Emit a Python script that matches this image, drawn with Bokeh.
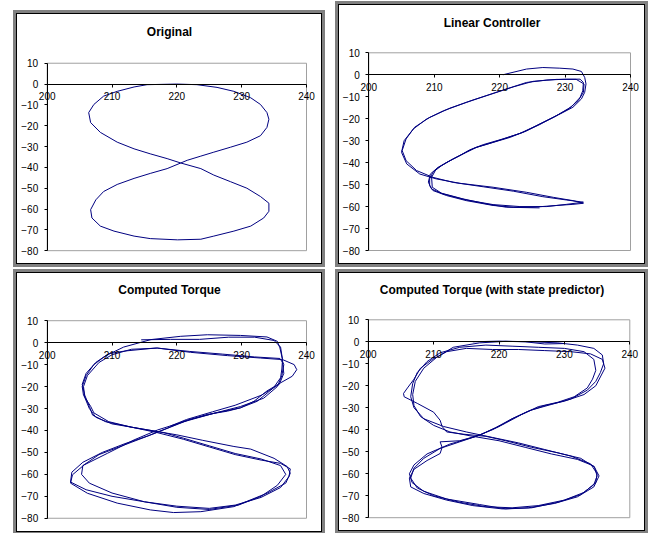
from bokeh.plotting import figure
from bokeh.models import Range1d, FixedTicker
from bokeh.layouts import row, column
from bokeh.embed import file_html
from bokeh.resources import INLINE

# ---------------- data ----------------
x_ticks = [200, 210, 220, 230, 240]
y_ticks = [10, 0, -10, -20, -30, -40, -50, -60, -70, -80]
titles = ["Original", "Linear Controller", "Computed Torque",
          "Computed Torque (with state predictor)"]

orig_x = [220.0, 223.1, 226.2, 228.8, 231.4, 232.9, 233.9, 234.2, 233.9, 232.9, 230.8, 228.3,
          225.7, 223.7, 221.6, 220.6, 218.5, 215.9, 213.4, 210.8, 208.7, 207.5, 206.7, 206.9,
          208.2, 210.3, 213.4, 215.9, 220.1, 223.7, 225.7, 228.8, 231.4, 233.4, 234.2, 234.2,
          232.9, 230.8, 228.3, 225.7, 223.7, 220.6, 218.5, 215.9, 213.4, 210.8, 208.2, 206.7,
          206.4, 207.2, 208.7, 210.8, 213.4, 215.4, 220.0]
orig_y = [0.0, -0.3, -1.6, -3.5, -6.6, -9.8, -13.7, -16.9, -20.8, -24.8, -27.9, -30.3,
          -32.7, -34.6, -36.6, -37.9, -40.6, -42.9, -45.3, -48.2, -51.6, -55.6, -60.3, -64.3,
          -68.2, -70.6, -73.0, -74.2, -74.8, -74.5, -73.0, -70.6, -68.2, -64.3, -61.1, -57.2,
          -54.0, -50.0, -46.9, -43.7, -40.6, -37.9, -35.8, -33.5, -31.1, -27.9, -23.2, -18.5,
          -13.7, -9.8, -5.8, -3.5, -1.4, -0.3, 0.0]

lin_x = [220.5, 224.1, 226.6, 229.2, 231.2, 232.5, 233.0, 233.2, 233.0, 232.5, 231.2, 229.2,
         226.6, 224.1, 221.6, 219.0, 216.5, 214.9, 212.9, 211.1, 209.8, 209.3, 209.3, 209.8,
         211.9, 214.9, 219.0, 222.1, 225.1, 228.7, 231.2, 232.8, 231.2, 228.2, 224.1, 219.0,
         213.9, 210.3, 207.8, 205.8, 205.0, 205.4, 206.8, 208.8, 211.4, 214.9, 218.0, 221.0,
         224.1, 227.2, 230.2, 232.3, 232.8, 232.7, 232.3, 231.0,
         228.7, 226.1, 223.6, 221.0, 218.5, 216.2, 214.4, 212.4, 210.6, 209.4, 209.1, 209.6,
         211.3, 214.9, 219.0, 223.1, 227.2, 230.2, 232.8, 230.2, 226.6, 222.1, 217.5, 212.9,
         209.8, 207.3, 205.7, 205.1, 205.7, 207.0, 209.3, 212.4, 215.9, 219.0, 222.1, 225.1,
         228.7, 231.7, 232.9, 232.8, 232.0, 230.5, 228.2, 225.6, 223.1, 220.5, 217.5, 215.4,
         213.9, 211.9, 210.3, 209.6, 209.7, 211.1, 214.4, 218.0, 221.0, 226.1]
lin_y = [0.0, 2.6, 3.3, 3.0, 2.6, 1.5, -1.2, -4.2, -8.0, -11.0, -14.8, -17.9,
         -21.7, -25.5, -28.5, -30.8, -33.0, -35.3, -38.3, -41.4, -44.4, -47.4, -50.5, -52.7,
         -55.0, -57.3, -59.5, -60.3, -60.3, -59.5, -59.0, -58.5, -57.3, -55.8, -53.5, -51.2,
         -49.4, -47.4, -45.2, -40.6, -35.3, -30.0, -24.7, -20.2, -16.4, -12.6, -9.5, -6.5,
         -3.5, -2.4, -2.0, -2.0, -3.5, -7.3, -10.3, -14.5,
         -18.6, -22.7, -26.2, -28.8, -31.2, -33.3, -36.0, -39.1, -42.1, -45.2, -48.9, -52.0,
         -54.2, -57.0, -59.1, -60.0, -60.0, -59.0, -58.0, -57.0, -55.5, -53.0, -51.0, -49.0,
         -46.7, -43.6, -39.1, -34.5, -29.2, -23.9, -19.4, -15.2, -11.5, -8.5, -5.5, -3.0,
         -2.1, -2.1, -4.2, -8.0, -11.8, -15.6, -19.4, -23.2, -26.7, -29.2, -31.8, -34.2,
         -36.8, -39.9, -42.9, -46.7, -51.2, -53.9, -56.5, -58.8, -60.3, -60.6]

ct_x = [214.5, 219.0, 223.5, 228.0, 232.0, 235.0, 236.0, 236.3, 238.1, 238.5, 237.8, 236.0,
        233.9, 231.9, 229.8, 227.8, 224.7, 221.1, 218.5, 215.5, 212.0, 208.5, 205.5, 203.8,
        203.6, 206.0, 210.0, 215.0, 220.0, 225.0, 229.0, 233.0, 236.0, 237.3, 237.5, 236.0,
        233.0, 229.0, 225.0, 221.0, 217.0, 213.0, 209.0, 207.0, 206.5, 205.8, 205.4, 206.0,
        207.5, 209.5, 212.0, 216.9, 222.1, 227.8, 232.9, 236.2,
        236.5, 236.2, 235.5, 233.4, 229.8, 225.7, 221.1, 217.0, 213.4, 209.3, 205.7, 203.9,
        203.6, 206.2, 210.8, 215.9, 219.5, 223.7, 228.8, 233.9, 236.8, 237.5, 237.0, 235.0,
        231.4, 228.8, 224.0, 220.0, 217.0, 213.0, 209.5, 207.2, 206.7, 205.6, 205.4, 206.0,
        207.2, 209.0, 211.8, 216.0, 220.6, 224.7, 229.8, 233.9, 235.5, 235.9, 236.3, 236.2,
        236.0, 234.9, 232.4, 229.8, 226.0, 222.0, 219.0, 216.0, 212.0, 208.0, 205.5, 205.3,
        206.5, 210.0, 215.0, 220.0, 225.0, 229.5, 233.0, 235.5, 236.8, 236.0, 233.0, 229.0,
        225.0, 221.0, 218.0, 214.0, 210.0, 207.5, 206.5, 205.8, 205.6, 206.2, 208.0, 210.0,
        213.0, 217.0, 222.0, 227.0, 232.0, 235.9, 236.3, 236.5, 235.8, 233.0, 229.0, 225.5,
        221.5, 219.0]
ct_y = [1.3, 1.5, 1.5, 2.5, 2.5, 1.0, -2.0, -7.7, -10.0, -12.3, -15.3, -18.3,
        -22.0, -26.7, -29.7, -31.2, -32.7, -35.8, -39.0, -42.5, -46.0, -50.0, -54.5, -59.0,
        -63.5, -67.0, -70.0, -72.5, -74.5, -75.5, -74.0, -70.5, -66.0, -61.0, -57.5, -55.0,
        -53.5, -51.0, -47.5, -44.0, -41.0, -38.5, -36.0, -33.0, -29.0, -24.0, -19.0, -14.0,
        -9.0, -5.0, -3.8, -2.4, -4.4, -5.9, -7.0, -7.7,
        -10.0, -15.0, -20.0, -25.3, -29.1, -32.2, -36.0, -39.8, -44.3, -50.4, -55.7, -60.2,
        -64.0, -68.6, -73.1, -76.2, -77.4, -77.0, -74.7, -68.6, -64.0, -59.5, -56.4, -52.7,
        -48.5, -47.3, -44.5, -42.0, -40.5, -38.5, -36.0, -32.0, -29.0, -24.0, -20.0, -15.0,
        -10.0, -6.0, -2.0, 1.4, 2.9, 3.6, 3.3, 2.6, 0.6, -2.4, -7.7, -12.0,
        -16.0, -20.6, -26.7, -29.7, -32.0, -35.0, -38.5, -42.0, -46.5, -51.0, -56.0, -60.0,
        -64.0, -68.5, -72.5, -75.0, -76.0, -74.0, -70.0, -65.0, -60.0, -56.0, -53.0, -50.5,
        -47.0, -43.5, -41.0, -39.0, -37.0, -34.0, -30.0, -25.0, -20.0, -15.0, -9.0, -5.5,
        -3.0, -2.5, -4.0, -5.2, -6.5, -7.2, -9.0, -14.0, -19.0, -24.0, -28.5, -31.5,
        -35.0, -38.0]

sp_x = [216.0, 220.0, 225.0, 229.0, 232.0, 234.5, 235.8, 236.0, 235.5, 234.8, 233.5, 231.0,
        228.0, 225.0, 222.0, 219.5, 217.0, 214.0, 211.0, 208.5, 207.0, 206.5, 207.5, 210.0,
        214.0, 218.0, 222.0, 226.0, 230.0, 233.0, 234.8, 235.0, 234.0, 231.0, 227.0, 223.0,
        219.0, 215.0, 211.5, 208.5, 207.0, 206.5, 206.8, 207.5, 209.0, 211.0, 214.0, 218.0,
        222.0, 226.0, 230.0, 233.0, 234.5, 234.8, 234.3, 233.5, 231.5, 229.0, 226.0, 223.5,
        221.0, 219.0, 216.5, 212.5, 209.0, 207.0, 206.3, 206.7, 208.5, 212.0, 217.0, 221.0,
        225.0, 229.0, 232.5, 234.5, 235.0, 234.6, 232.5, 229.0, 225.0, 221.0, 218.0, 214.5,
        212.0, 211.3, 211.0,
        210.0, 207.5, 205.5, 205.4, 206.0, 207.0, 208.0, 209.8, 210.8, 212.0, 215.0, 219.0,
        223.0, 227.0, 231.0, 234.0, 235.8, 236.2, 235.5, 234.8, 233.0, 230.0, 227.0, 224.5,
        222.0, 220.0, 217.0, 214.0, 211.0, 211.3, 211.0, 209.0, 207.0, 206.3, 206.5, 208.5,
        212.0, 216.0, 220.5, 224.5, 228.5, 232.0, 234.5, 235.3, 234.5, 232.0, 228.0, 224.0,
        220.0, 216.0, 212.5, 210.0, 208.0, 207.0, 206.8, 207.2, 208.5, 210.5, 213.0, 217.0,
        221.0, 224.0, 227.0, 230.0]
sp_y = [0.0, 0.3, 0.0, -0.5, -1.5, -3.0, -6.0, -10.0, -14.0, -18.0, -22.0, -26.0,
        -28.5, -31.0, -35.0, -39.0, -42.5, -45.5, -48.5, -53.0, -57.5, -62.0, -66.5, -70.0,
        -73.0, -75.0, -75.5, -74.5, -72.0, -68.5, -64.0, -60.0, -55.5, -52.0, -49.0, -46.0,
        -43.5, -41.0, -38.5, -35.0, -30.0, -25.0, -19.0, -14.0, -9.0, -5.0, -2.5, -1.5,
        -2.0, -2.5, -3.0, -4.5, -8.0, -13.0, -17.0, -21.0, -25.0, -27.5, -29.5, -33.0,
        -37.0, -40.0, -43.0, -46.5, -51.0, -56.0, -60.0, -64.0, -68.0, -71.5, -74.0, -76.0,
        -75.5, -73.0, -69.5, -65.0, -61.0, -57.0, -53.0, -50.5, -48.0, -45.0, -43.0, -42.0,
        -41.0, -38.5, -35.7,
        -32.0, -28.0, -25.0, -23.5, -21.0, -17.0, -12.0, -8.0, -6.5, -4.5, -3.0, -3.5,
        -3.5, -4.0, -4.5, -5.5, -8.0, -12.0, -16.0, -20.0, -24.0, -27.0, -29.0, -31.5,
        -35.0, -38.5, -42.5, -45.0, -45.5, -48.0, -50.8, -54.0, -58.0, -62.0, -66.0, -69.0,
        -72.0, -74.5, -76.0, -75.5, -73.5, -70.5, -66.0, -61.0, -56.5, -53.5, -51.0, -48.0,
        -45.0, -43.0, -41.0, -38.0, -34.0, -29.0, -24.0, -18.0, -12.0, -7.0, -2.5, -0.5,
        0.2, 0.0, -1.0, -0.8]

FONT = "Liberation Sans"
LINE = "#000080"
X0, X1 = x_ticks[0], x_ticks[-1]
Y0, Y1 = y_ticks[-1], y_ticks[0]


def panel(title, xs, ys, w, h, ttop, pl, pr, pt, pb, margin):
    # frame covers the whole panel below the title band; the plot area
    # (pl..pr, pt..pb in pixels) is mapped onto the data limits
    sx = (X1 - X0) / (pr - pl)
    sy = (Y1 - Y0) / (pb - pt)
    xr = Range1d(X0 - pl * sx, X1 + (w - pr) * sx)
    yr = Range1d(Y0 - (h - pb) * sy, Y1 + (pt - ttop) * sy)
    p = figure(width=w, height=h, output_backend="svg", toolbar_location=None,
               x_range=xr, y_range=yr,
               min_border_left=0, min_border_right=0, min_border_top=ttop,
               min_border_bottom=0, background_fill_color="white",
               border_fill_color="white", outline_line_color=None)
    p.margin = margin
    p.styles = {"box-shadow": "0 0 0 1px #000000, 0 0 0 4px #808080"}
    p.grid.visible = False

    p.title.text = title
    p.title.align = "center"
    p.title.text_font = FONT
    p.title.text_font_size = "12px"
    p.title.text_font_style = "bold"
    p.title.text_color = "black"
    p.title.standoff = 9

    # plot-area border
    p.quad(left=[X0], right=[X1], bottom=[Y0], top=[Y1], fill_color=None,
           line_color="#a0a0a0", line_width=1)

    xa = p.xaxis[0]
    xa.fixed_location = 0
    xa.bounds = (X0, X1)
    xa.ticker = FixedTicker(ticks=x_ticks)
    ya = p.yaxis[0]
    ya.fixed_location = X0
    ya.bounds = (Y0, Y1)
    ya.ticker = FixedTicker(ticks=y_ticks)
    for ax in (xa, ya):
        ax.axis_line_color = "black"
        ax.axis_line_width = 1
        ax.major_tick_line_color = "black"
        ax.major_tick_in = 0
        ax.major_tick_out = 3
        ax.minor_tick_line_color = None
        ax.major_label_text_font = FONT
        ax.major_label_text_font_size = "10px"
        ax.major_label_text_color = "black"
    xa.major_label_standoff = 5
    ya.major_label_standoff = 6

    p.line(xs, ys, line_color=LINE, line_width=1)
    return p


tl = panel(titles[0], orig_x, orig_y, 304, 249, 26, 29.7, 289.0, 46.0, 236.0, (14, 0, 0, 17))
tr = panel(titles[1], lin_x, lin_y, 305, 258, 29, 29.3, 291.0, 47.3, 245.0, (5, 0, 0, 18))
bl = panel(titles[2], ct_x, ct_y, 304, 258, 27, 29.7, 289.0, 46.3, 244.7, (10, 0, 0, 17))
br = panel(titles[3], sp_x, sp_y, 305, 257, 28, 28.7, 290.3, 46.3, 244.2, (10, 0, 0, 18))

layout = column(row(tl, tr), row(bl, br))

open("out.html", "w").write(file_html(layout, INLINE))
